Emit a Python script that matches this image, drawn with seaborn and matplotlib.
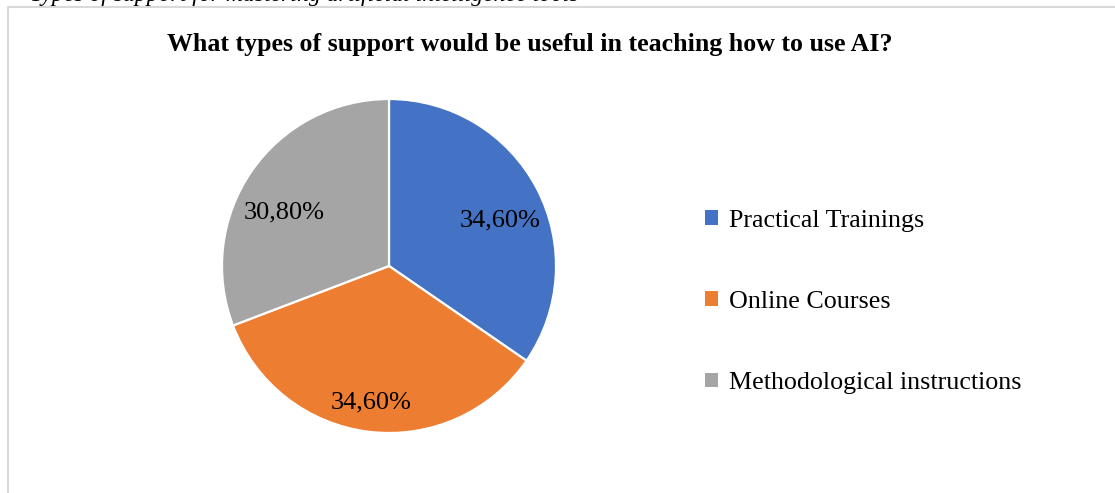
import matplotlib
matplotlib.use("Agg")
import matplotlib.pyplot as plt
from matplotlib.patches import Rectangle, Patch
import seaborn as sns

categories = ["Practical Trainings", "Online Courses", "Methodological instructions"]
shares = [34.6, 34.6, 30.8]
share_labels = ["34,60%", "34,60%", "30,80%"]
colors = ["#4472C4", "#ED7D31", "#A5A5A5"]
title = "What types of support would be useful in teaching how to use AI?"
caption = "Types of support for mastering artificial intelligence tools"

sns.set_theme(style="white")
plt.rcParams["font.family"] = ["Liberation Serif", "DejaVu Serif"]
plt.rcParams["text.color"] = "black"

W, H = 1115, 493
fig = plt.figure(figsize=(W / 100, H / 100), dpi=100)
fig.patch.set_facecolor("white")

# chart frame (runs off the right and bottom edges)
fig.add_artist(Rectangle((8 / W, -0.05), 1.2, (H - 7) / H + 0.05,
                         transform=fig.transFigure, fill=False,
                         edgecolor="#d9d9d9", linewidth=1.5))

# caption line above the frame, mostly out of view
fig.text(30 / W, (H - 1.5) / H, caption, fontsize=17, style="italic",
         ha="left", va="baseline", color="black")

ax = fig.add_axes([222 / W, 60 / H, 334 / W, 334 / H])
wedges, _ = ax.pie(shares, colors=colors, startangle=90, counterclock=False,
                   wedgeprops=dict(edgecolor="white", linewidth=1.6))
ax.set_xlim(-1, 1)
ax.set_ylim(-1, 1)
ax.set_aspect("equal")
ax.axis("off")

label_xy = [(0.665, 0.27), (-0.11, -0.82), (-0.63, 0.32)]
for (lx, ly), txt in zip(label_xy, share_labels):
    ax.text(lx, ly, txt, ha="center", va="center", fontsize=19, color="black")

fig.text(530 / W, (H - 45) / H, title, ha="center", va="center",
         fontsize=18.6, fontweight="bold", color="black")

handles = [Patch(facecolor=c, edgecolor="none") for c in colors]
leg = fig.legend(handles, categories, loc="center left",
                 bbox_to_anchor=(695 / W, (H - 302) / H), frameon=False,
                 fontsize=18.7, handlelength=0.5, handleheight=0.5,
                 handletextpad=0.42, labelspacing=2.28, borderaxespad=0)
for t in leg.get_texts():
    t.set_color("black")

fig.savefig("out.png", dpi=100, facecolor="white")
